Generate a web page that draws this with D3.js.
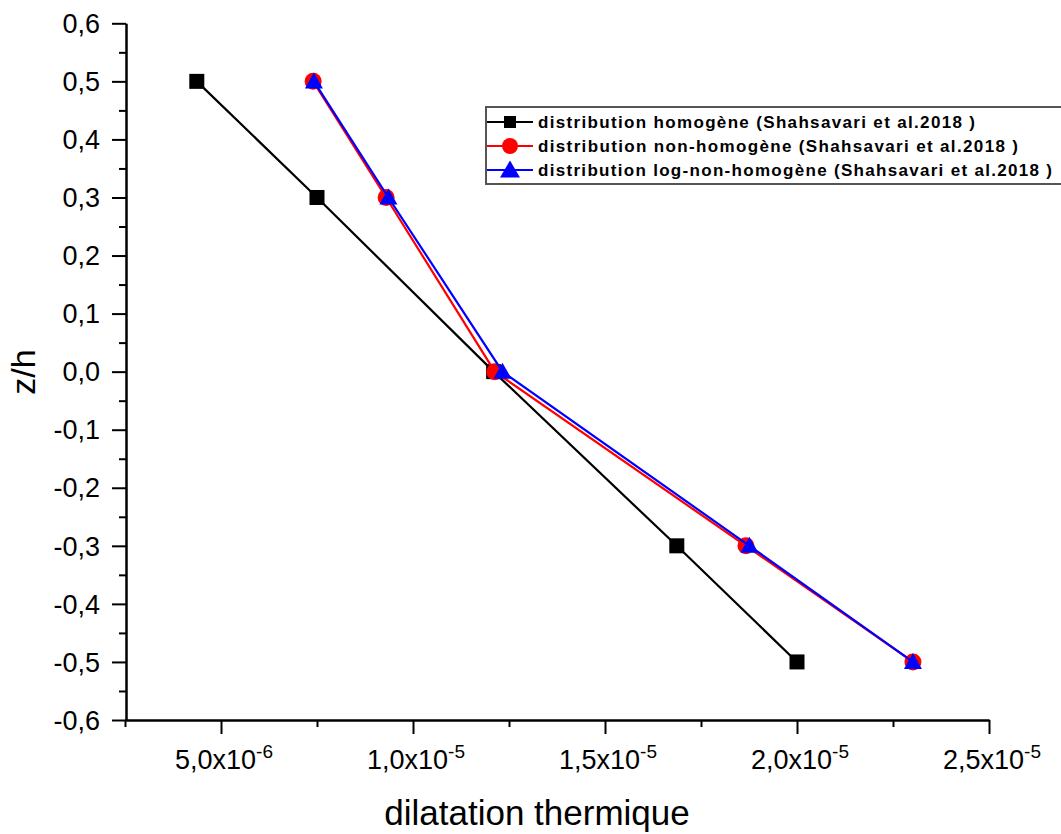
<!DOCTYPE html>
<html>
<head>
<meta charset="utf-8">
<script src="https://cdn.jsdelivr.net/npm/d3@7"></script>
<style>
  body { margin: 0; background: #fff; }
  svg { display: block; font-family: "Liberation Sans", Arial, sans-serif; }
</style>
</head>
<body>
<svg id="chart" width="1061" height="834"></svg>
<script>
// data
var zLevels = [0.5, 0.3, 0.0, -0.3, -0.5];
var homogene = [4.37e-6, 7.50e-6, 1.21e-5, 1.687e-5, 2.00e-5];
var nonHomogene = [7.40e-6, 9.30e-6, 1.213e-5, 1.867e-5, 2.302e-5];
var logNonHomogene = [7.42e-6, 9.36e-6, 1.233e-5, 1.876e-5, 2.302e-5];

var xMajor = [5e-6, 1e-5, 1.5e-5, 2e-5, 2.5e-5];
var xMinor = [2.5e-6, 7.5e-6, 1.25e-5, 1.75e-5, 2.25e-5];
var xMantissa = ["5,0", "1,0", "1,5", "2,0", "2,5"];
var xExponent = ["-6", "-5", "-5", "-5", "-5"];
var yMajor = [0.6, 0.5, 0.4, 0.3, 0.2, 0.1, 0.0, -0.1, -0.2, -0.3, -0.4, -0.5, -0.6];
var yMinor = [0.55, 0.45, 0.35, 0.25, 0.15, 0.05, -0.05, -0.15, -0.25, -0.35, -0.45, -0.55];

var seriesNames = [
  "distribution homogène (Shahsavari et al.2018 )",
  "distribution non-homogène (Shahsavari et al.2018 )",
  "distribution log-non-homogène (Shahsavari et al.2018 )"
];
var seriesColors = ["#000000", "#ff0000", "#0000ff"];
var seriesShapes = ["square", "circle", "triangle"];
var seriesValues = [homogene, nonHomogene, logNonHomogene];

var svg = d3.select("#chart");
svg.append("rect").attr("width", 1061).attr("height", 834).attr("fill", "#fff");

var x = d3.scaleLinear().domain([2.5e-6, 2.5e-5]).range([125, 989]);
var y = d3.scaleLinear().domain([-0.6, 0.6]).range([720, 23.3]);

// ---- axes ----
var xAxisG = svg.append("g").attr("transform", "translate(0,720)");
xAxisG.call(d3.axisBottom(x).tickValues(xMinor).tickSize(7).tickSizeOuter(0).tickFormat(""));
xAxisG.append("g").call(d3.axisBottom(x).tickValues(xMajor).tickSize(14).tickSizeOuter(0).tickFormat(""));
xAxisG.selectAll("path.domain").attr("stroke-width", 2);
xAxisG.selectAll(".tick line").attr("stroke-width", 2);

var yAxisG = svg.append("g").attr("transform", "translate(126,0)");
yAxisG.call(d3.axisLeft(y).tickValues(yMinor).tickSize(7).tickSizeOuter(0).tickFormat(""));
yAxisG.append("g").call(d3.axisLeft(y).tickValues(yMajor).tickSize(14).tickSizeOuter(0).tickFormat(""));
yAxisG.selectAll("path.domain").attr("stroke-width", 2);
yAxisG.selectAll(".tick line").attr("stroke-width", 2);

// y tick labels
svg.append("g").selectAll("text")
  .data(yMajor)
  .enter()
  .append("text")
  .attr("x", 100)
  .attr("y", function(d) { return y(d) + 9.7; })
  .attr("text-anchor", "end")
  .attr("font-size", 27)
  .attr("fill", "#000")
  .text(function(d) { return d3.format(".1f")(d).replace("−", "-").replace(".", ","); });

// x tick labels with superscript exponent
var xl = svg.append("g").selectAll("text")
  .data(xMajor)
  .enter()
  .append("text")
  .attr("x", function(d) { return x(d) + 3; })
  .attr("y", 769)
  .attr("text-anchor", "middle")
  .attr("font-size", 27)
  .attr("fill", "#000");
xl.append("tspan").text(function(d, i) { return xMantissa[i] + "x10"; });
xl.append("tspan").attr("font-size", 19).attr("dy", -11)
  .text(function(d, i) { return xExponent[i]; });

// axis titles
svg.append("text")
  .attr("x", 537).attr("y", 825)
  .attr("text-anchor", "middle")
  .attr("font-size", 35)
  .text("dilatation thermique");

svg.append("text")
  .attr("transform", "translate(35,372) rotate(-90)")
  .attr("text-anchor", "middle")
  .attr("font-size", 34)
  .text("z/h");

// ---- markers ----
function drawMarker(g, shape, cx, cy, color, s) {
  if (shape == "square") {
    g.append("rect")
      .attr("x", cx - s.sq / 2).attr("y", cy - s.sq / 2)
      .attr("width", s.sq).attr("height", s.sq)
      .attr("fill", color);
  } else if (shape == "circle") {
    g.append("circle")
      .attr("cx", cx).attr("cy", cy).attr("r", s.r)
      .attr("fill", color);
  } else {
    var w = s.tw / 2;
    g.append("path")
      .attr("d", "M" + cx + "," + (cy - s.th * 0.56) +
                 "L" + (cx + w) + "," + (cy + s.th * 0.44) +
                 "L" + (cx - w) + "," + (cy + s.th * 0.44) + "Z")
      .attr("fill", color);
  }
}

var plotSize = { sq: 15, r: 8.5, tw: 18, th: 16 };

var line = d3.line()
  .x(function(d) { return x(d[0]); })
  .y(function(d) { return y(d[1]); });

seriesValues.forEach(function(vals, k) {
  var pts = vals.map(function(v, i) { return [v, zLevels[i]]; });
  var g = svg.append("g").attr("class", "series" + k);
  g.append("path")
    .datum(pts)
    .attr("d", line)
    .attr("fill", "none")
    .attr("stroke", seriesColors[k])
    .attr("stroke-width", 2.2);
  pts.forEach(function(p) {
    drawMarker(g, seriesShapes[k], x(p[0]), y(p[1]), seriesColors[k], plotSize);
  });
});

// ---- legend ----
var legend = svg.append("g");
legend.append("rect")
  .attr("x", 486).attr("y", 107)
  .attr("width", 600).attr("height", 77)
  .attr("fill", "#fff")
  .attr("stroke", "#555")
  .attr("stroke-width", 2);

var legendY = [122, 146, 170];
var legendLen = [437, 480, 514];
var legendSize = { sq: 12, r: 8, tw: 20, th: 17 };
seriesNames.forEach(function(name, k) {
  var ly = legendY[k];
  legend.append("line")
    .attr("x1", 487).attr("x2", 533)
    .attr("y1", ly).attr("y2", ly)
    .attr("stroke", seriesColors[k])
    .attr("stroke-width", 2);
  drawMarker(legend, seriesShapes[k], 510, ly, seriesColors[k], legendSize);
  legend.append("text")
    .attr("x", 538).attr("y", ly + 6)
    .attr("font-size", 17)
    .attr("font-weight", "bold")
    .attr("textLength", legendLen[k])
    .attr("lengthAdjust", "spacing")
    .text(name);
});
</script>
</body>
</html>
